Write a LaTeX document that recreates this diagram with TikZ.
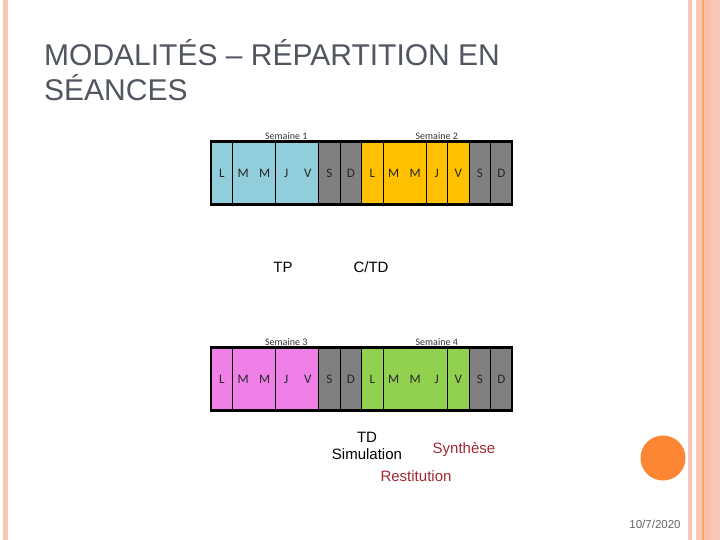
\documentclass[tikz,border=0pt]{standalone}
\usepackage{fontspec}
\setmainfont{Liberation Sans}
\newfontfamily\calibri{Carlito}
\usetikzlibrary{positioning,calc}
\definecolor{sky}{RGB}{146,205,220}
\definecolor{amber}{RGB}{255,192,0}
\definecolor{orchid}{RGB}{238,128,232}
\definecolor{leaf}{RGB}{146,208,80}
\definecolor{weekend}{RGB}{128,128,128}
\definecolor{titlegray}{RGB}{80,85,95}
\definecolor{darkred}{RGB}{160,40,50}
\definecolor{peach}{RGB}{248,200,182}
\definecolor{salmon}{RGB}{250,190,170}
\definecolor{flame}{RGB}{253,134,52}

\begin{document}
\begin{tikzpicture}[x=1pt, y=-1pt,
    daycell/.style={minimum width=21.5pt, minimum height=63pt, inner sep=0pt, text height=8.5pt, text depth=0pt, font=\calibri\fontsize{13}{15}\selectfont, text=black!85},
    weeklabel/.style={font=\calibri\fontsize{10}{12}\selectfont, text=black!80, inner sep=1pt},
    title/.style={font=\fontsize{30}{34}\selectfont, text=titlegray, inner sep=0pt},
    tag/.style={font=\fontsize{15}{18}\selectfont, inner sep=0pt},
    divider/.style={line width=0.8pt},
    boxframe/.style={line width=2.5pt}
  ]
  \useasboundingbox (0,0) rectangle (720,540);
  \fill[peach] (3,0) rectangle (8,540);
  \fill[peach] (688,0) rectangle (692,540);
  \fill[peach] (696,0) rectangle (702,540);
  \fill[orange!45!peach] (702,0) rectangle (703.5,540);
  \fill[salmon] (703.5,0) rectangle (710,540);
  \fill[peach!90!salmon] (710,0) rectangle (720,540);

  \node[title, anchor=base west] (title1) at (44,66) {MODALITÉS – RÉPARTITION EN};
  \node[title, anchor=base west] (title2) at ([yshift=-35pt]title1.base west) {SÉANCES};

  \foreach \d/\c [count=\i] in {L/sky,M/sky,M/sky,J/sky,V/sky,S/weekend,D/weekend,L/amber,M/amber,M/amber,J/amber,V/amber,S/weekend,D/weekend}
    \node[daycell, fill=\c] (a\i) at ({211+21.5*(\i-0.5)},173) {\d};
  \foreach \i in {1,3,5,6,7,8,10,11,12,13}
    \draw[divider] (a\i.north east) -- (a\i.south east);
  \draw[boxframe] (a1.north west) rectangle (a14.south east);
  \node[weeklabel, above=0.5pt of a4] (week1) {Semaine 1};
  \node[weeklabel, above=0.5pt of a11] (week2) {Semaine 2};

  \foreach \d/\c [count=\i] in {L/orchid,M/orchid,M/orchid,J/orchid,V/orchid,S/weekend,D/weekend,L/leaf,M/leaf,M/leaf,J/leaf,V/leaf,S/weekend,D/weekend}
    \node[daycell, fill=\c] (b\i) at ({211+21.5*(\i-0.5)},379) {\d};
  \foreach \i in {1,3,5,6,7,8,11,12,13}
    \draw[divider] (b\i.north east) -- (b\i.south east);
  \draw[boxframe] (b1.north west) rectangle (b14.south east);
  \node[weeklabel, above=0.5pt of b4] (week3) {Semaine 3};
  \node[weeklabel, above=0.5pt of b11] (week4) {Semaine 4};

  \node[tag, anchor=base] (tp) at (283,272) {TP};
  \node[tag, anchor=base] (ctd) at (371,272) {C/TD};
  \node[tag, anchor=base] (td) at (367,442) {TD};
  \node[tag, anchor=base] (simu) at ([yshift=-17pt]td.base) {Simulation};
  \node[tag, anchor=base, text=darkred] (synth) at (464,453) {Synthèse};
  \node[tag, anchor=base, text=darkred] (resti) at (416,481) {Restitution};

  \node[circle, fill=flame, minimum size=45pt, inner sep=0pt] (dot) at (663,458) {};
  \node[font=\fontsize{11.5}{13}\selectfont, text=black!60, anchor=base] (date) at (655,528) {10/7/2020};
\end{tikzpicture}
\end{document}
